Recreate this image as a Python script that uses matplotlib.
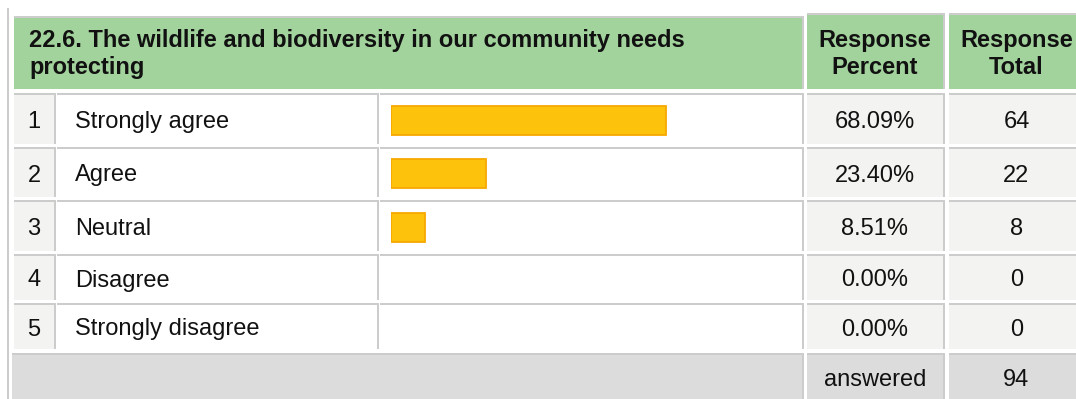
import matplotlib
matplotlib.use("Agg")
import matplotlib.pyplot as plt
from matplotlib.patches import Rectangle

# Data
title = "22.6. The wildlife and biodiversity in our community needs\nprotecting"
col_headers = ["Response\nPercent", "Response\nTotal"]
row_numbers = ["1", "2", "3", "4", "5"]
answers = ["Strongly agree", "Agree", "Neutral", "Disagree", "Strongly disagree"]
percents = [68.09, 23.40, 8.51, 0.00, 0.00]
totals = [64, 22, 8, 0, 0]
answered_label = "answered"
answered_total = 94

plt.rcParams['font.family'] = ['Liberation Sans', 'DejaVu Sans']

W, H = 1076, 399
GREEN = '#a3d39c'
LIGHT = '#f3f3f2'
GREY = '#dcdcdc'
BORDER = '#cccccc'
FS = 17

fig = plt.figure(figsize=(W / 100, H / 100), dpi=100)
ax = fig.add_axes([0, 0, 1, 1])
ax.set_xlim(0, W)
ax.set_ylim(H, 0)
ax.axis('off')


def cell(x0, x1, y0, y1, color):
    ax.add_patch(Rectangle((x0, y0), x1 - x0, y1 - y0, facecolor=color, edgecolor='none'))
    ax.add_patch(Rectangle((x0, y0 - 2), x1 - x0 + 2, 2, facecolor=BORDER, edgecolor='none'))
    ax.add_patch(Rectangle((x1, y0 - 2), 2, y1 - y0 + 2, facecolor=BORDER, edgecolor='none'))


# column extents (pixels)
num_x = (14, 54)
lab_x = (57, 377)
bar_x = (380, 802)
pct_x = (807, 943)
tot_x = (949, 1084)

# outer left line
ax.add_patch(Rectangle((7, 8), 2, H, facecolor=BORDER, edgecolor='none'))

# header
cell(14, 802, 18, 89, GREEN)
cell(pct_x[0], pct_x[1], 15, 89, GREEN)
cell(tot_x[0], tot_x[1], 15, 89, GREEN)
ax.text(29, 54, title, fontsize=FS, fontweight='bold', ha='left', va='center',
        linespacing=1.17, color='#111111')
for (x0, x1), h in zip([pct_x, tot_x], col_headers):
    ax.text((x0 + x1) / 2, 54, h, fontsize=FS, fontweight='bold', ha='center',
            va='center', linespacing=1.17, color='#111111')

# rows
row_lines = [94, 148, 201, 255, 304, 353]
row_centers = []
for i in range(len(answers)):
    y0 = row_lines[i] + 1
    y1 = row_lines[i + 1] - 4
    yc = (row_lines[i] + row_lines[i + 1]) / 2
    row_centers.append(yc)
    ty = yc + 1
    cell(num_x[0], num_x[1], y0, y1, LIGHT)
    cell(lab_x[0], lab_x[1], y0, y1, 'white')
    cell(bar_x[0], bar_x[1], y0, y1, 'white')
    cell(pct_x[0], pct_x[1], y0, y1, LIGHT)
    cell(tot_x[0], tot_x[1], y0, y1, LIGHT)
    ax.text(sum(num_x) / 2, ty, row_numbers[i], fontsize=FS, ha='center', va='center', color='#111111')
    ax.text(75, ty, answers[i], fontsize=FS, ha='left', va='center', color='#111111')
    ax.text(sum(pct_x) / 2, ty, f"{percents[i]:.2f}%", fontsize=FS, ha='center', va='center', color='#111111')
    ax.text(sum(tot_x) / 2, ty, str(totals[i]), fontsize=FS, ha='center', va='center', color='#111111')

# answered row
ya0 = row_lines[-1] + 2
cell(12, 802, ya0, H + 10, GREY)
cell(pct_x[0], pct_x[1], ya0, H + 10, GREY)
cell(tot_x[0], tot_x[1], ya0, H + 10, GREY)
ax.text(sum(pct_x) / 2, 380, answered_label, fontsize=FS, ha='center', va='center', color='#111111')
ax.text(sum(tot_x) / 2, 380, str(answered_total), fontsize=FS, ha='center', va='center', color='#111111')

# bars: 0-100 % scale over the bar column
bax = fig.add_axes([391 / W, 0, 404 / W, 1])
bax.set_xlim(0, 100)
bax.set_ylim(H, 0)
bax.axis('off')
bax.patch.set_alpha(0)
ys = [c - 1 for c, p in zip(row_centers, percents) if p > 0]
ws = [p for p in percents if p > 0]
bax.barh(ys, ws, height=29, color='#fdc20c', edgecolor='#f7a800', linewidth=1.3)

fig.savefig('out.png', dpi=100)
